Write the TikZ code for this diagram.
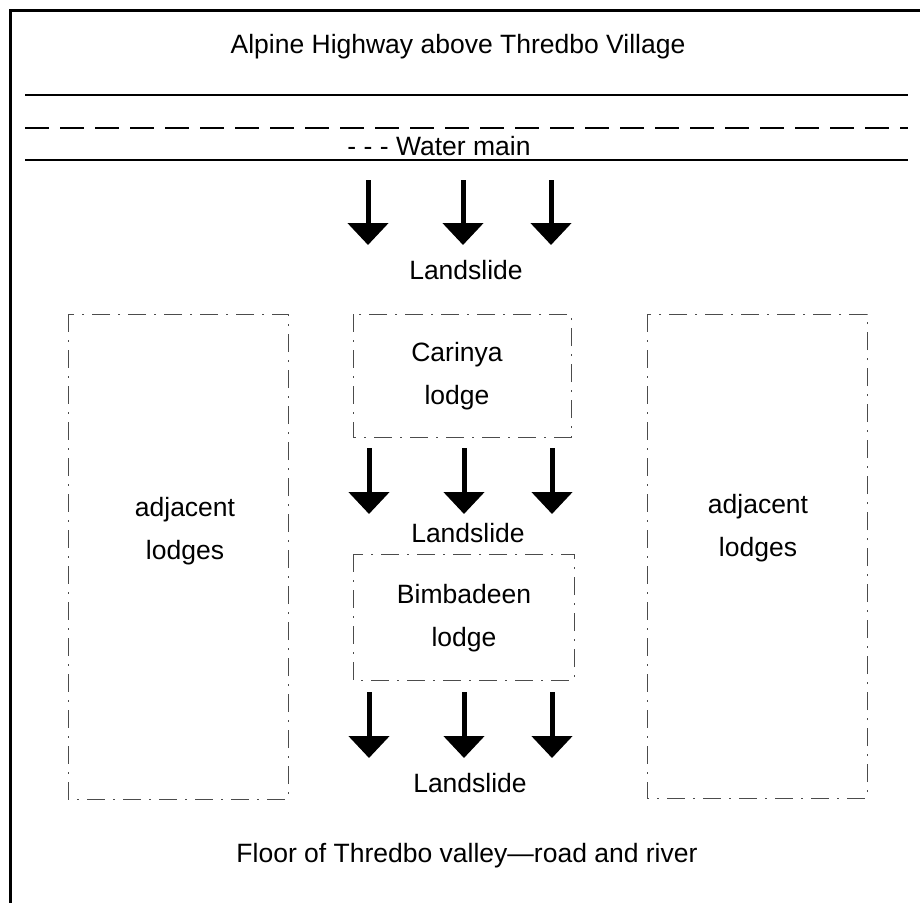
\documentclass[tikz,border=0pt]{standalone}
\usepackage{fontspec}
\setmainfont{Liberation Sans}
\usetikzlibrary{arrows.meta}
\begin{document}
\begin{tikzpicture}[x=1pt,y=-1pt,
  lbl/.style={anchor=base,inner sep=0pt,align=center,font=\fontsize{26.5}{43}\selectfont},
  slide/.style={line width=5pt,-{Triangle[width=40pt,length=22pt]}},
  lodgebox/.style={draw=black!70,line width=1pt,dash pattern=on 18pt off 8pt on 2pt off 8pt},
  road/.style={line width=1.6pt},
  frame/.style={line width=3pt}]
\useasboundingbox (0,0) rectangle (920,903);
% frame
\coordinate (fc) at (10,10);
\coordinate (fr) at (920,10);
\coordinate (fb) at (10,903);
\draw[frame] (fr) -- (fc) -- (fb);
% highway lines
\coordinate (l1a) at (25,95);  \coordinate (l1b) at (908,95);
\coordinate (l2a) at (25,128); \coordinate (l2b) at (908,128);
\coordinate (l3a) at (25,160); \coordinate (l3b) at (908,160);
\draw[road] (l1a) -- (l1b);
\draw[road,dash pattern=on 24pt off 11pt] (l2a) -- (l2b);
\draw[road] (l3a) -- (l3b);
% texts
\node[lbl] (title) at (458,53) {Alpine Highway above Thredbo Village};
\node[lbl] (water) at (439,155) {- - - Water main};
\node[lbl] (ls1) at (466,279) {Landslide};
\node[lbl] (ls2) at (468,542) {Landslide};
\node[lbl] (ls3) at (470,792) {Landslide};
\node[lbl] (floor) at (467,862) {Floor of Thredbo valley---road and river};
% boxes
\draw[lodgebox] (68,314) rectangle (288,799);
\draw[lodgebox] (647,314) rectangle (867,798);
\draw[lodgebox] (353,314) rectangle (571,437);
\draw[lodgebox] (353,554) rectangle (574,680);
\node[lbl] (adjL) at (185,559) {adjacent\\lodges};
\node[lbl] (adjR) at (758,556) {adjacent\\lodges};
\node[lbl] (car) at (457,404) {Carinya\\lodge};
\node[lbl] (bim) at (464,646) {Bimbadeen\\lodge};
% arrows
\foreach \i/\x in {a/368,b/463,c/551}{
  \coordinate (t\i1) at (\x,180); \coordinate (t\i2) at (\x,245);
  \draw[slide] (t\i1) -- (t\i2);
  \coordinate (m\i1) at (\x+1,448); \coordinate (m\i2) at (\x+1,514);
  \draw[slide] (m\i1) -- (m\i2);
  \coordinate (b\i1) at (\x+1,692); \coordinate (b\i2) at (\x+1,758);
  \draw[slide] (b\i1) -- (b\i2);
}
\end{tikzpicture}
\end{document}
